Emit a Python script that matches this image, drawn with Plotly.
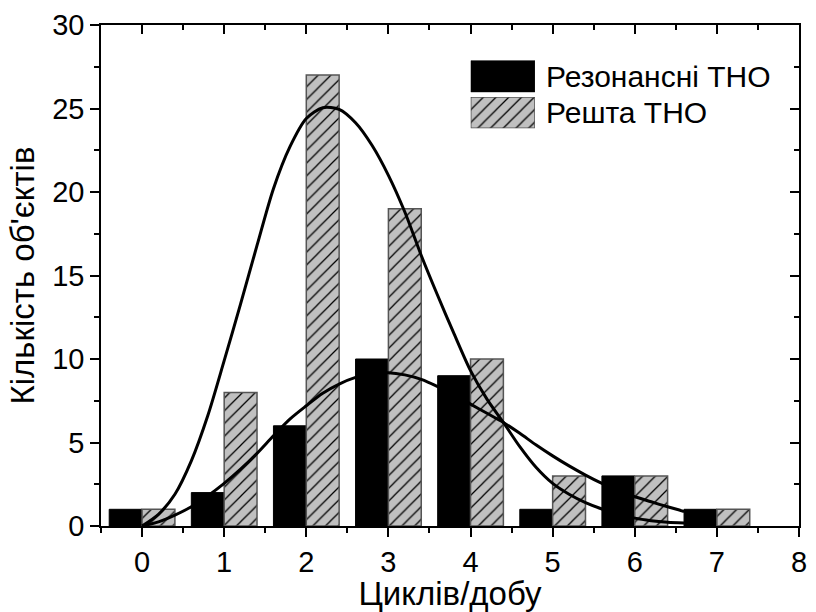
import plotly.graph_objects as go

# Histogram: cycles per day for resonant vs. remaining TNOs
cycles = [0, 1, 2, 3, 4, 5, 6, 7]
resonant_counts = [1, 2, 6, 10, 9, 1, 3, 1]
other_counts = [1, 8, 27, 19, 10, 3, 3, 1]

# Fitted distribution curves (sampled along x)
fit_x = [0, 0.2, 0.4, 0.6, 0.8, 1.0, 1.2, 1.4, 1.6, 1.8, 2.0, 2.2, 2.4, 2.6, 2.8,
         3.0, 3.2, 3.4, 3.6, 3.8, 4.0, 4.2, 4.4, 4.6, 4.8, 5.0, 5.2, 5.4, 5.6,
         5.8, 6.0, 6.2, 6.4, 6.6]
fit_other = [0, 0.7, 1.9, 3.9, 6.6, 9.9, 13.3, 16.8, 20.2, 22.7, 24.4, 25.05,
             24.95, 24.15, 22.8, 21.0, 18.8, 16.2, 13.8, 11.5, 9.3, 7.6, 6.2,
             4.75, 3.5, 2.55, 1.9, 1.4, 1.02, 0.72, 0.47, 0.32, 0.23, 0.18]
fit_resonant = [0, 0.25, 0.65, 1.15, 1.8, 2.55, 3.4, 4.35, 5.4, 6.4, 7.2, 7.95,
                8.5, 8.9, 9.12, 9.18, 9.05, 8.78, 8.35, 7.85, 7.3, 6.75, 6.2,
                5.55, 4.85, 4.2, 3.6, 3.05, 2.55, 2.1, 1.75, 1.45, 1.15, 0.87]

x_ticks = [0, 1, 2, 3, 4, 5, 6, 7, 8]
y_ticks = [0, 5, 10, 15, 20, 25, 30]

legend_names = ["Резонансні ТНО", "Решта ТНО"]
x_title = "Циклів/добу"
y_title = "Кількість об'єктів"

FONT = "Liberation Sans, Arial, sans-serif"
HATCH_BG = "#c0c0c0"
HATCH_EDGE = "#555555"
SOLID_MARKER = dict(color="black", line=dict(color="black", width=1))
HATCH_MARKER = dict(color=HATCH_BG, line=dict(color=HATCH_EDGE, width=1.5),
                    pattern=dict(shape="/", fgcolor="black", bgcolor=HATCH_BG,
                                 size=9, solidity=0.14, fillmode="replace"))

fig = go.Figure()

fig.add_trace(go.Bar(x=cycles, y=resonant_counts, name=legend_names[0],
                     marker=SOLID_MARKER, showlegend=False))
fig.add_trace(go.Bar(x=cycles, y=other_counts, name=legend_names[1],
                     marker=HATCH_MARKER, showlegend=False))

for fit_y in (fit_other, fit_resonant):
    fig.add_trace(go.Scatter(
        x=fit_x, y=fit_y, mode="lines",
        line=dict(color="black", width=3, shape="spline", smoothing=0.8),
        showlegend=False, hoverinfo="skip",
    ))

# Mirror axes (top / right) with inward ticks
fig.add_trace(go.Scatter(x=[None], y=[None], xaxis="x2", yaxis="y2",
                         showlegend=False, hoverinfo="skip"))

# Legend keys: one bar per inset axis
fig.add_trace(go.Bar(x=[0], y=[1], width=[1], xaxis="x3", yaxis="y3",
                     marker=SOLID_MARKER, showlegend=False, hoverinfo="skip"))
fig.add_trace(go.Bar(x=[0], y=[1], width=[1], xaxis="x4", yaxis="y4",
                     marker=HATCH_MARKER, showlegend=False, hoverinfo="skip"))

axis_common = dict(showgrid=False, zeroline=False, showline=True,
                   linecolor="black", linewidth=1.5, tickcolor="black",
                   tickwidth=1.5)
inset_x = dict(domain=[0.5297, 0.6217], range=[-0.5, 0.5], visible=False,
               fixedrange=True)
inset_y = dict(range=[0, 1], visible=False, fixedrange=True)

fig.update_layout(
    width=816, height=612,
    margin=dict(l=101, r=9, t=24, b=82),
    paper_bgcolor="white", plot_bgcolor="white",
    barmode="group", bargap=0.2, bargroupgap=0,
    font=dict(family=FONT, color="black", size=29),
    xaxis=dict(
        **axis_common, range=[-0.5, 8], tickvals=x_ticks,
        ticks="outside", ticklen=9,
        minor=dict(tick0=0, dtick=0.5, ticks="outside", ticklen=5,
                   tickwidth=1.5, tickcolor="black"),
        tickfont=dict(size=29),
        title=dict(text=x_title, font=dict(size=33), standoff=2),
    ),
    yaxis=dict(
        **axis_common, range=[0, 30], tickvals=y_ticks,
        ticks="outside", ticklen=9,
        minor=dict(tick0=0, dtick=2.5, ticks="outside", ticklen=5,
                   tickwidth=1.5, tickcolor="black"),
        tickfont=dict(size=29),
        title=dict(text=y_title, font=dict(size=33), standoff=8),
    ),
    xaxis2=dict(
        **axis_common, overlaying="x", side="top", range=[-0.5, 8],
        tickvals=x_ticks, ticks="inside", ticklen=9, showticklabels=False,
        minor=dict(tick0=0, dtick=0.5, ticks="inside", ticklen=5,
                   tickwidth=1.5, tickcolor="black"),
    ),
    yaxis2=dict(
        **axis_common, overlaying="y", side="right", range=[0, 30],
        tickvals=y_ticks, ticks="inside", ticklen=9, showticklabels=False,
        minor=dict(tick0=0, dtick=2.5, ticks="inside", ticklen=5,
                   tickwidth=1.5, tickcolor="black"),
    ),
    xaxis3=dict(**inset_x, anchor="y3"),
    yaxis3=dict(**inset_y, domain=[0.866, 0.929], anchor="x3"),
    xaxis4=dict(**inset_x, anchor="y4"),
    yaxis4=dict(**inset_y, domain=[0.7937, 0.8562], anchor="x4"),
    annotations=[
        dict(text=legend_names[0], xref="paper", yref="paper",
             x=0.634, y=0.8975, xanchor="left", yanchor="middle",
             showarrow=False, font=dict(size=30, family=FONT)),
        dict(text=legend_names[1], xref="paper", yref="paper",
             x=0.634, y=0.825, xanchor="left", yanchor="middle",
             showarrow=False, font=dict(size=30, family=FONT)),
    ],
)

fig.write_html("out.html")
